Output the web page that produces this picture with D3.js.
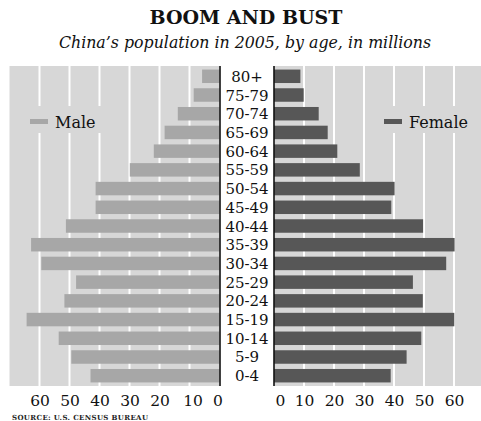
<!DOCTYPE html>
<html>
<head>
<meta charset="utf-8">
<script src="https://cdn.jsdelivr.net/npm/d3@7"></script>
<style>
  html, body { margin: 0; padding: 0; background: #fff; }
  svg { display: block; }
</style>
</head>
<body>
<svg id="chart" width="481" height="421"></svg>
<script>
// ---- data ----
const ages = ["80+","75-79","70-74","65-69","60-64","55-59","50-54","45-49","40-44",
              "35-39","30-34","25-29","20-24","15-19","10-14","5-9","0-4"];
const male = [5.8, 8.6, 13.9, 18.3, 21.9, 29.9, 41.3, 41.3, 51.2,
              62.8, 59.4, 47.8, 51.7, 64.3, 53.6, 49.4, 43.0];
const female = [8.8, 9.9, 14.9, 17.9, 21.1, 28.6, 40.2, 39.1, 49.7,
                60.2, 57.4, 46.3, 49.6, 60.1, 49.1, 44.2, 38.9];
const tickValues = [0, 10, 20, 30, 40, 50, 60];
const gridValues = [10, 20, 30, 40, 50, 60];
const title = "BOOM AND BUST";
const subtitle = "China\u2019s population in 2005, by age, in millions";
const source = "SOURCE: U.S. CENSUS BUREAU";

// ---- layout ----
const svg = d3.select("#chart");
const pTop = 66, pBottom = 386;
const panelBg = "#d7d7d7", maleColor = "#a7a7a7", femaleColor = "#575757";
const serif = "'DejaVu Serif', serif";

const xL = d3.scaleLinear().domain([0, 70]).range([219.5, 9.5]);
const xR = d3.scaleLinear().domain([0, 70]).range([274, 484]);
const y = d3.scaleBand().domain(ages).range([pTop, pBottom]).paddingInner(0.28).paddingOuter(0.19);

// title
svg.append("text").attr("x", 246).attr("y", 24).attr("text-anchor", "middle")
  .style("font-family", serif).style("font-weight", "bold").style("font-size", "19px")
  .attr("fill", "#111").text(title);
svg.append("text").attr("x", 245).attr("y", 47.5).attr("text-anchor", "middle")
  .style("font-family", serif).style("font-style", "italic").style("font-size", "15.8px")
  .attr("fill", "#111").text(subtitle);

// panels
svg.append("rect").attr("x", xL(70)).attr("y", pTop).attr("width", xL(0) - xL(70))
  .attr("height", pBottom - pTop).attr("fill", panelBg);
svg.append("rect").attr("x", xR(0)).attr("y", pTop).attr("width", 481 - xR(0))
  .attr("height", pBottom - pTop).attr("fill", panelBg);

// gridlines
svg.append("g").selectAll("line").data(gridValues).join("line")
  .attr("x1", d => xL(d)).attr("x2", d => xL(d)).attr("y1", pTop).attr("y2", pBottom)
  .attr("stroke", "#fff").attr("stroke-width", 2);
svg.append("g").selectAll("line").data(gridValues).join("line")
  .attr("x1", d => xR(d)).attr("x2", d => xR(d)).attr("y1", pTop).attr("y2", pBottom)
  .attr("stroke", "#fff").attr("stroke-width", 2);

// legends (backgrounds hide gridlines)
function legend(x0, x1, sx, label, color) {
  svg.append("rect").attr("x", x0).attr("y", 106).attr("width", x1 - x0).attr("height", 27)
    .attr("fill", panelBg);
  svg.append("rect").attr("x", sx).attr("y", 119).attr("width", 18).attr("height", 5)
    .attr("fill", color);
  svg.append("text").attr("x", sx + 25).attr("y", 128)
    .style("font-family", serif).style("font-size", "16px").attr("fill", "#111").text(label);
}
legend(24, 102, 30, "Male", maleColor);
legend(378, 472, 384, "Female", femaleColor);

// bars
svg.append("g").selectAll("rect").data(ages).join("rect")
  .attr("x", (d, i) => xL(male[i])).attr("y", d => y(d))
  .attr("width", (d, i) => xL(0) - xL(male[i])).attr("height", y.bandwidth())
  .attr("fill", maleColor);
svg.append("g").selectAll("rect").data(ages).join("rect")
  .attr("x", xR(0)).attr("y", d => y(d))
  .attr("width", (d, i) => xR(female[i]) - xR(0)).attr("height", y.bandwidth())
  .attr("fill", femaleColor);

// zero axis lines
svg.append("line").attr("x1", xL(0) + 0.5).attr("x2", xL(0) + 0.5).attr("y1", pTop).attr("y2", pBottom)
  .attr("stroke", "#111").attr("stroke-width", 1.6);
svg.append("line").attr("x1", xR(0)).attr("x2", xR(0)).attr("y1", pTop).attr("y2", pBottom)
  .attr("stroke", "#111").attr("stroke-width", 1.6);

// age labels
svg.append("g").selectAll("text").data(ages).join("text")
  .attr("x", 247).attr("y", d => y(d) + y.bandwidth() / 2 + 5.5).attr("text-anchor", "middle")
  .style("font-family", serif).style("font-size", "15px").attr("fill", "#111").text(d => d);

// bottom axes
const axL = svg.append("g").attr("transform", `translate(0,${pBottom})`)
  .call(d3.axisBottom(xL).tickValues(tickValues).tickSize(0).tickPadding(9).tickFormat(d3.format("d")));
const axR = svg.append("g").attr("transform", `translate(0,${pBottom})`)
  .call(d3.axisBottom(xR).tickValues(tickValues).tickSize(0).tickPadding(9).tickFormat(d3.format("d")));
[axL, axR].forEach(ax => {
  ax.select(".domain").remove();
  ax.selectAll("text").style("font-family", serif).style("font-size", "15.5px").attr("fill", "#111");
});
axL.selectAll(".tick").filter(d => d === 0).select("text").attr("dx", -2);
axL.selectAll(".tick").filter(d => d === 10).select("text").attr("dx", 3);
axR.selectAll(".tick").filter(d => d === 0).select("text").attr("dx", 6);

// source
svg.append("text").attr("x", 12).attr("y", 419.5)
  .style("font-family", serif).style("font-size", "7px").style("font-weight", "bold")
  .style("letter-spacing", "0.35px").attr("fill", "#222").text(source);
</script>
</body>
</html>
